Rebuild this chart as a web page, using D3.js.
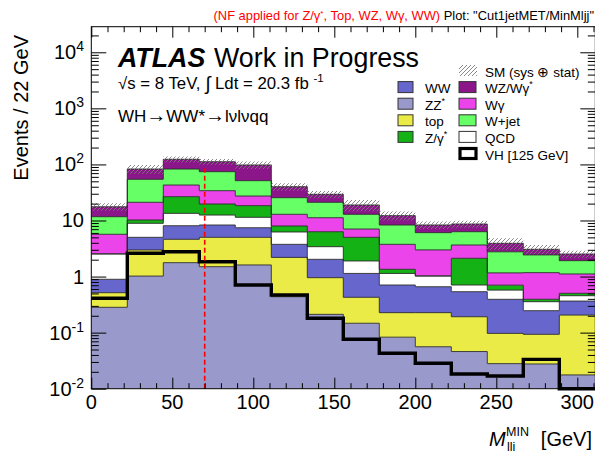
<!DOCTYPE html>
<html>
<head>
<meta charset="utf-8">
<script src="https://cdn.jsdelivr.net/npm/d3@7"></script>
<style>
  body { margin: 0; background: #fff; }
  svg { display: block; font-family: "Liberation Sans", Arial, Helvetica, sans-serif; }
</style>
</head>
<body>
<svg id="chart" width="595" height="453"></svg>
<script>
// ---- binning: 18 bins over 0-400 GeV, 14 of them shown ----
const binWidth = 400 / 18;
const nBins = 14;
const binEdges = d3.range(nBins + 1).map(i => i * binWidth);

// ---- background expectations per bin (events), stacked bottom -> top ----
const ZZ   = [0.283, 1.02, 1.77, 1.50, 1.61, 0.437, 0.212, 0.147, 0.083, 0.056, 0.046, 0.028, 0.0276, 0.0176];
const Top  = [0.232, 1.96, 2.85, 3.51, 3.40, 1.76, 0.743, 0.28, 0.144, 0.171, 0.146, 0.069, 0.0657, 0.188];
const WW   = [0.379, 2.03, 3.45, 3.30, 2.42, 1.56, 1.075, 0.71, 0.48, 0.432, 0.345, 0.296, 0.153, 0.16];
const QCD  = [1.63, 3.90, 5.33, 4.19, 3.97, 2.48, 1.38, 0.76, 0.43, 0.36, 0.17, 0.18, 0.11, 0.09];
const Zgam = [0.02, 1.3, 13.2, 7.2, 7.0, 1.74, 2.9, 3.11, 0.21, 0.01, 1.41, 0.13, 0.037, 0.047];
const Wgam = [3.13, 10.9, 16.3, 14.3, 8.9, 4.92, 4.9, 2.04, 2.41, 1.96, 1.54, 0.46, 0.78, 0.61];
const Wjet = [6.01, 33.2, 39.9, 40.2, 24.0, 12.6, 9.9, 5.85, 4.55, 3.08, 2.65, 1.60, 1.26, 0.81];
const WZ   = [5.9, 28.5, 40.6, 37.6, 46.4, 14.6, 8.2, 6.0, 3.9, 2.25, 2.34, 1.15, 0.63, 0.60];
// relative (sys + stat) uncertainty on the SM total
const smRelErr = [0.15, 0.18, 0.12, 0.12, 0.15, 0.15, 0.15, 0.23, 0.18, 0.15, 0.14, 0.23, 0.19, 0.15];
// signal, VH (125 GeV)
const VH   = [0.41, 2.60, 2.77, 1.84, 0.707, 0.469, 0.180, 0.076, 0.0428, 0.0284, 0.0183, 0.0168, 0.0334, 0.004];

const cutValue = 70;      // vertical cut line, GeV
const cutLineTop = 85;    // events

const xMajorTicks = [0, 50, 100, 150, 200, 250, 300];
const yMajorTicks = [0.01, 0.1, 1, 10, 100, 1000, 10000];

// ---- styles ----
const colors = {
  ZZ: "#9999cc", Top: "#ebeb47", WW: "#6666cc", QCD: "#ffffff",
  Zgam: "#14b214", Wgam: "#ea44ea", Wjet: "#66ff66", WZ: "#8a1689"
};
const stackKeys = ["ZZ", "Top", "WW", "QCD", "Zgam", "Wgam", "Wjet", "WZ"];
const series = { ZZ, Top, WW, QCD, Zgam, Wgam, Wjet, WZ };

const svg = d3.select("#chart");
const plot = { left: 91.3, right: 595.3, top: 26.7, bottom: 388.7 };
const yMin = 0.01, yMax = 2.86e4;

const x = d3.scaleLinear().domain([0, binEdges[nBins]]).range([plot.left, plot.right]);
const y = d3.scaleLog().domain([yMin, yMax]).range([plot.bottom, plot.top]);
const yc = v => y(Math.max(v, yMin));

// hatch pattern for the uncertainty band
const defs = svg.append("defs");
defs.append("pattern")
  .attr("id", "hatch").attr("patternUnits", "userSpaceOnUse")
  .attr("width", 4).attr("height", 4)
  .append("path")
  .attr("d", "M-1,1 l2,-2 M0,4 l4,-4 M3,5 l2,-2")
  .attr("stroke", "#7a7a7a").attr("stroke-width", 0.9);
defs.append("clipPath").attr("id", "plotClip")
  .append("rect").attr("x", plot.left).attr("y", plot.top)
  .attr("width", plot.right - plot.left).attr("height", plot.bottom - plot.top);

// ---- stacked histograms ----
const rows = d3.range(nBins).map(i => {
  const r = { lo: binEdges[i] };
  stackKeys.forEach(k => r[k] = series[k][i]);
  return r;
});
const stacked = d3.stack().keys(stackKeys)(rows);

function stepPoints(getLo, getHi) {
  const pts = d3.range(nBins).map(i => ({ x: binEdges[i], lo: getLo(i), hi: getHi(i) }));
  pts.push({ x: binEdges[nBins], lo: getLo(nBins - 1), hi: getHi(nBins - 1) });
  return pts;
}

const area = d3.area().curve(d3.curveStepAfter)
  .x(d => x(d.x)).y0(d => yc(d.lo)).y1(d => yc(d.hi));
const line = d3.line().curve(d3.curveStepAfter)
  .x(d => x(d.x)).y(d => yc(d.hi));

const g = svg.append("g").attr("clip-path", "url(#plotClip)");

stacked.forEach(layer => {
  const pts = stepPoints(i => layer[i][0], i => layer[i][1]);
  g.append("path").attr("d", area(pts)).attr("fill", colors[layer.key]);
});
stacked.forEach(layer => {
  const pts = stepPoints(i => layer[i][0], i => layer[i][1]);
  g.append("path").attr("d", line(pts)).attr("fill", "none")
    .attr("stroke", "#2a2a2a").attr("stroke-width", 0.9);
});

// SM uncertainty band
const total = d3.range(nBins).map(i => stackKeys.reduce((s, k) => s + series[k][i], 0));
const bandPts = stepPoints(i => total[i] * (1 - smRelErr[i]), i => total[i] * (1 + smRelErr[i]));
g.append("path").attr("d", area(bandPts)).attr("fill", "url(#hatch)");

// VH signal outline
const vhPts = stepPoints(i => yMin, i => VH[i]);
svg.append("path").attr("d", line(vhPts)).attr("fill", "none")
  .attr("stroke", "#000").attr("stroke-width", 3.4).attr("stroke-linejoin", "miter");

// cut line
svg.append("line")
  .attr("x1", x(cutValue)).attr("x2", x(cutValue))
  .attr("y1", y(yMin)).attr("y2", y(cutLineTop))
  .attr("stroke", "#ff0000").attr("stroke-width", 1.6).attr("stroke-dasharray", "5,3");

// ---- axes (ticks point inwards, mirrored on top and right) ----
const xMinor = d3.range(0, binEdges[nBins] + 0.01, 10).filter(v => v % 50 !== 0);
const yMinor = [];
for (let e = -2; e <= 4; e++) for (let m = 2; m <= 9; m++) {
  const v = m * Math.pow(10, e);
  if (v < yMax) yMinor.push(v);
}

function addAxis(axis, transform) {
  const a = svg.append("g").attr("transform", transform).call(axis);
  a.select(".domain").remove();
  a.selectAll("text").remove();
  a.selectAll("line").attr("stroke", "#000").attr("stroke-width", 1);
}
addAxis(d3.axisBottom(x).tickValues(xMajorTicks).tickSize(-11), `translate(0,${plot.bottom})`);
addAxis(d3.axisBottom(x).tickValues(xMinor).tickSize(-5.5), `translate(0,${plot.bottom})`);
addAxis(d3.axisTop(x).tickValues(xMajorTicks).tickSize(-11), `translate(0,${plot.top})`);
addAxis(d3.axisTop(x).tickValues(xMinor).tickSize(-5.5), `translate(0,${plot.top})`);
addAxis(d3.axisLeft(y).tickValues(yMajorTicks).tickSize(-15), `translate(${plot.left},0)`);
addAxis(d3.axisLeft(y).tickValues(yMinor).tickSize(-7.5), `translate(${plot.left},0)`);
addAxis(d3.axisRight(y).tickValues(yMajorTicks).tickSize(-15), `translate(${plot.right},0)`);
addAxis(d3.axisRight(y).tickValues(yMinor).tickSize(-7.5), `translate(${plot.right},0)`);

svg.append("rect")
  .attr("x", plot.left).attr("y", plot.top)
  .attr("width", plot.right - plot.left).attr("height", plot.bottom - plot.top)
  .attr("fill", "none").attr("stroke", "#000").attr("stroke-width", 1);

// tick labels
svg.append("g").selectAll("text").data(xMajorTicks).join("text")
  .attr("x", d => x(d)).attr("y", 409)
  .attr("text-anchor", "middle").attr("font-size", 20)
  .text(d => d);

const yLabelG = svg.append("g");
yMajorTicks.forEach(v => {
  const e = Math.round(Math.log10(v));
  const t = yLabelG.append("text")
    .attr("x", 84).attr("y", y(v) + 7)
    .attr("text-anchor", "end").attr("font-size", 20);
  if (e === 0) t.text("1");
  else if (e === 1) t.text("10");
  else {
    t.append("tspan").text("10");
    t.append("tspan").attr("dy", -8).attr("font-size", 14).text(String(e));
  }
});

// axis titles
svg.append("text")
  .attr("transform", "translate(28,35) rotate(-90)")
  .attr("text-anchor", "end").attr("font-size", 20)
  .text("Events / 22 GeV");

svg.append("text").attr("x", 489).attr("y", 446)
  .attr("font-size", 20).attr("font-style", "italic").text("M");
svg.append("text").attr("x", 506).attr("y", 436)
  .attr("font-size", 12.5).text("MIN");
svg.append("text").attr("x", 507).attr("y", 451)
  .attr("font-size", 12.5).text("lli");
svg.append("text").attr("x", 592).attr("y", 446)
  .attr("text-anchor", "end").attr("font-size", 20).text("[GeV]");

// ---- header ----
const hdr = svg.append("text").attr("x", 594).attr("y", 19.5)
  .attr("text-anchor", "end").attr("font-size", 12.9);
hdr.append("tspan").attr("fill", "#ff0000").text("(NF applied for Z/γ");
hdr.append("tspan").attr("fill", "#ff0000").attr("dy", -4).attr("font-size", 8).text("*");
hdr.append("tspan").attr("fill", "#ff0000").attr("dy", 4).text(", Top, WZ, Wγ, WW)");
hdr.append("tspan").attr("fill", "#000").text(" Plot: \"Cut1jetMET/MinMljj\"");

// ---- ATLAS label ----
svg.append("text").attr("x", 118).attr("y", 67).attr("font-size", 26.8)
  .attr("font-weight", "bold").attr("font-style", "italic").text("ATLAS");
svg.append("text").attr("x", 214).attr("y", 67).attr("font-size", 26.8)
  .text("Work in Progress");

const lumi = svg.append("text").attr("x", 118).attr("y", 89).attr("font-size", 16.8);
lumi.append("tspan").text("√s = 8 TeV,  ");
lumi.append("tspan").attr("font-size", 19).attr("dy", 1).text("∫");
lumi.append("tspan").attr("dy", -1).text(" Ldt = 20.3 fb ");
lumi.append("tspan").attr("dy", -7).attr("font-size", 11.5).text("-1");

const proc = svg.append("text").attr("x", 118).attr("y", 122).attr("font-size", 17);
proc.append("tspan").text("WH");
proc.append("tspan").attr("font-size", 20).text("→");
proc.append("tspan").text("WW*");
proc.append("tspan").attr("font-size", 20).text("→");
proc.append("tspan").text("lνlνqq");

// ---- legend ----
const legLeft = [
  { key: "WW", label: "WW", star: false },
  { key: "ZZ", label: "ZZ", star: true },
  { key: "Top", label: "top", star: false },
  { key: "Zgam", label: "Z/γ", star: true }
];
const legRight = [
  { key: "SM", label: "SM (sys ⊕ stat)", star: false },
  { key: "WZ", label: "WZ/Wγ", star: true },
  { key: "Wgam", label: "Wγ", star: false },
  { key: "Wjet", label: "W+jet", star: false },
  { key: "QCD", label: "QCD", star: false },
  { key: "VH", label: "VH [125 GeV]", star: false }
];
const rowStep = 16.6, firstBase = 76.5;

function legendLabel(sel, item, xText, base) {
  const t = sel.append("text").attr("x", xText).attr("y", base).attr("font-size", 13.5);
  t.append("tspan").text(item.label);
  if (item.star) t.append("tspan").attr("dy", -6).attr("font-size", 9).text("*");
}

const legG = svg.append("g");
legLeft.forEach((item, i) => {
  const base = firstBase + rowStep * (i + 1);
  legG.append("rect").attr("x", 398).attr("y", base - 11.5).attr("width", 15).attr("height", 11)
    .attr("fill", colors[item.key]).attr("stroke", "#333").attr("stroke-width", 1);
  legendLabel(legG, item, 425, base);
});
legRight.forEach((item, i) => {
  const base = firstBase + rowStep * i;
  if (item.key === "SM") {
    legG.append("rect").attr("x", 459).attr("y", base - 11.5).attr("width", 18).attr("height", 11)
      .attr("fill", "url(#hatch)");
  } else if (item.key === "VH") {
    legG.append("rect").attr("x", 460).attr("y", base - 11).attr("width", 16).attr("height", 10)
      .attr("fill", "#fff").attr("stroke", "#000").attr("stroke-width", 3.2);
  } else {
    legG.append("rect").attr("x", 459).attr("y", base - 11.5).attr("width", 17).attr("height", 11)
      .attr("fill", colors[item.key]).attr("stroke", "#333").attr("stroke-width", 1);
  }
  legendLabel(legG, item, 485, base);
});
</script>
</body>
</html>
